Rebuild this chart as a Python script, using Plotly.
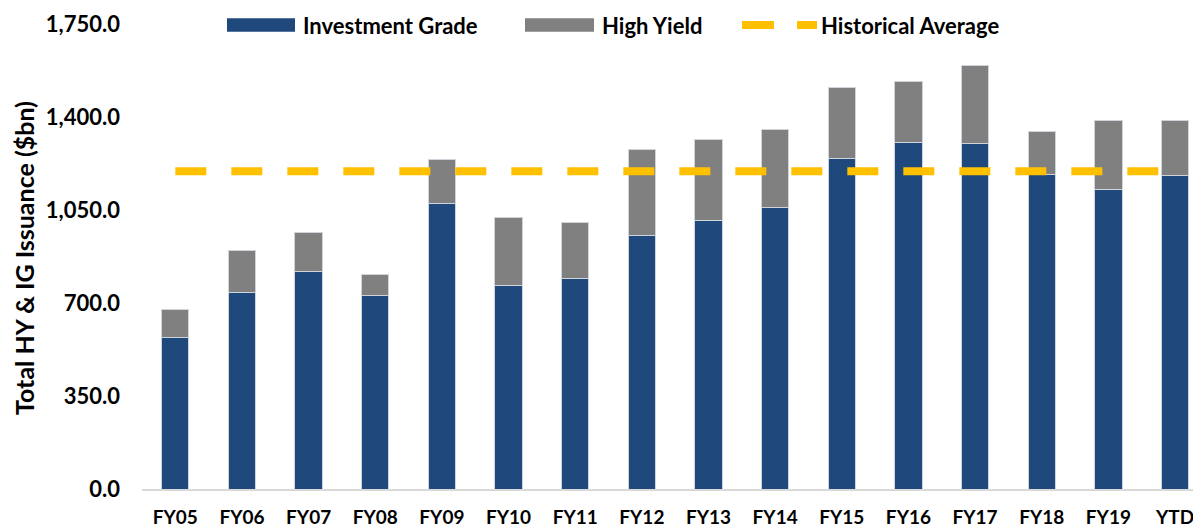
import plotly.graph_objects as go

categories = ["FY05", "FY06", "FY07", "FY08", "FY09", "FY10", "FY11", "FY12",
              "FY13", "FY14", "FY15", "FY16", "FY17", "FY18", "FY19", "YTD"]
investment_grade = [570, 738, 818, 730, 1073, 765, 792, 955,
                    1009, 1058, 1244, 1303, 1300, 1184, 1126, 1178]
high_yield = [106, 159, 147, 77, 166, 258, 212, 323,
              308, 294, 267, 232, 295, 163, 261, 210]
historical_average = [1196] * len(categories)
y_ticks = [0, 350, 700, 1050, 1400, 1750]
y_tick_labels = ["0.0", "350.0", "700.0", "1,050.0", "1,400.0", "1,750.0"]
legend_names = ["Investment Grade", "High Yield", "Historical Average"]

FONT = "Lato"
BORDER = "#D0D5DC"
IG_COLOR = "#1F497D"
HY_COLOR = "#808080"
AVG_COLOR = "#FFC000"

W, H = 1193, 527
ML, MR, MT, MB = 142, 0, 24, 38
PW = W - ML - MR
PH = H - MT - MB


def px_x(px):
    return (px - ML) / PW


def px_y(py):
    return (H - MB - py) / PH


fig = go.Figure()
fig.add_trace(go.Bar(
    x=categories, y=investment_grade, name=legend_names[0],
    marker=dict(color=IG_COLOR, line=dict(color=BORDER, width=1)),
))
fig.add_trace(go.Bar(
    x=categories, y=high_yield, name=legend_names[1],
    marker=dict(color=HY_COLOR, line=dict(color=BORDER, width=1)),
))
fig.add_trace(go.Scatter(
    x=categories, y=historical_average, name=legend_names[2],
    mode="lines", line=dict(color=AVG_COLOR, width=8, dash="31px,25px"),
))

# custom legend (wide swatches like the original)
shapes = [
    dict(type="rect", xref="paper", yref="paper",
         x0=px_x(227), x1=px_x(295), y0=px_y(31.7), y1=px_y(18.3),
         fillcolor=IG_COLOR, line=dict(width=0)),
    dict(type="rect", xref="paper", yref="paper",
         x0=px_x(525), x1=px_x(594), y0=px_y(31.7), y1=px_y(18.3),
         fillcolor=HY_COLOR, line=dict(width=0)),
    dict(type="line", xref="paper", yref="paper",
         x0=px_x(742), x1=px_x(774), y0=px_y(25), y1=px_y(25),
         line=dict(color=AVG_COLOR, width=8)),
    dict(type="line", xref="paper", yref="paper",
         x0=px_x(797), x1=px_x(817), y0=px_y(25), y1=px_y(25),
         line=dict(color=AVG_COLOR, width=8)),
]
legend_font = dict(family=FONT, size=22, color="black", weight="bold")
annotations = [
    dict(text=legend_names[0], x=px_x(301), y=px_y(25), xref="paper", yref="paper",
         xanchor="left", yanchor="middle", showarrow=False, font=legend_font),
    dict(text=legend_names[1], x=px_x(600), y=px_y(25), xref="paper", yref="paper",
         xanchor="left", yanchor="middle", showarrow=False, font=legend_font),
    dict(text=legend_names[2], x=px_x(819), y=px_y(25), xref="paper", yref="paper",
         xanchor="left", yanchor="middle", showarrow=False, font=legend_font),
    dict(text="Total HY & IG Issuance ($bn)", x=px_x(24), y=px_y(258),
         xref="paper", yref="paper", xanchor="center", yanchor="middle",
         textangle=-90, showarrow=False,
         font=dict(family=FONT, size=25, color="black", weight="bold")),
]

fig.update_layout(
    width=W, height=H,
    barmode="stack", bargap=0.59,
    plot_bgcolor="white", paper_bgcolor="white",
    margin=dict(l=ML, r=MR, t=MT, b=MB, autoexpand=False),
    font=dict(family=FONT, size=20, color="black"),
    showlegend=False,
    shapes=shapes,
    annotations=annotations,
    xaxis=dict(
        type="category", range=[-0.5, 15.27], automargin=False,
        showgrid=False, showline=True, linecolor="#D9D9D9", linewidth=2,
        ticks="", tickfont=dict(family=FONT, size=19, color="black", weight="bold"),
        ticklabelstandoff=10,
    ),
    yaxis=dict(
        range=[0, 1750], tickvals=y_ticks, ticktext=y_tick_labels, automargin=False,
        showgrid=False, showline=False, zeroline=False, ticks="",
        tickfont=dict(family=FONT, size=22, color="black", weight="bold"),
        ticklabelstandoff=21,
    ),
)

fig.write_html(
    "out.html",
    config={"displayModeBar": False},
    post_script="document.body.style.margin='0';document.body.style.overflow='hidden';",
)
